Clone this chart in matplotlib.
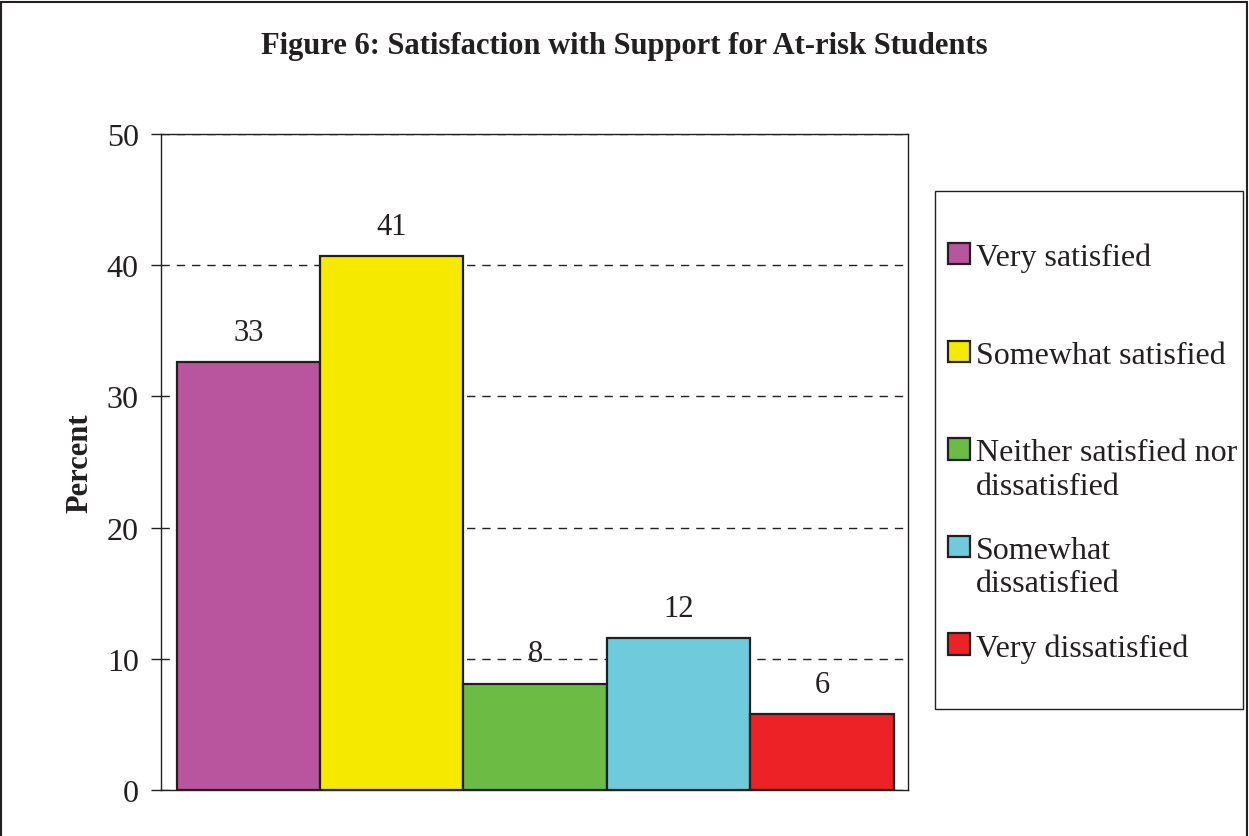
import matplotlib
matplotlib.use('Agg')
import matplotlib.pyplot as plt
from matplotlib.patches import Rectangle

# data
categories = ['Very satisfied', 'Somewhat satisfied',
              'Neither satisfied nor\ndissatisfied', 'Somewhat\ndissatisfied',
              'Very dissatisfied']
values = [32.6, 40.7, 8.1, 11.6, 5.8]
value_labels = ['33', '41', '8', '12', '6']
colors = ['#B9559E', '#F5E900', '#6BBB45', '#6FCBDC', '#EC2227']
yticks = [0, 10, 20, 30, 40, 50]

plt.rcParams['font.family'] = ['Liberation Serif', 'DejaVu Serif']

fig = plt.figure(figsize=(12.49, 8.37), dpi=100)
ax = fig.add_axes([0.1289, 0.055, 0.598, 0.7837])

x = list(range(len(values)))
bars = ax.bar(x, values, width=1.0, color=colors, edgecolor='#231F20',
              linewidth=1.6, zorder=3)
ax.bar_label(bars, labels=value_labels, padding=11, fontsize=22, color='#231F20')

ax.set_xlim(-0.61, 4.6)
ax.set_ylim(0, 50)
ax.set_yticks(yticks)
ax.set_xticks([])
ax.tick_params(axis='y', direction='out', length=7, width=1, labelsize=23,
               colors='#231F20', pad=9)
ax.yaxis.grid(True, linestyle=(0, (6, 5)), color='#231F20', linewidth=1, zorder=0)
ax.set_axisbelow(True)
for s in ax.spines.values():
    s.set_linewidth(1)
    s.set_color('#231F20')

ax.set_ylabel('Percent', fontsize=22, fontweight='bold', labelpad=9, color='#231F20')
fig.text(0.5, 0.945, 'Figure 6: Satisfaction with Support for At-risk Students',
         ha='center', va='center', fontsize=22, fontweight='bold', color='#231F20')

# legend: pad every entry to two lines so the spacing stays even
handles = [Rectangle((0, 0), 1, 1, facecolor=c, edgecolor='#231F20', linewidth=1.6)
           for c in colors]
labels = [c if '\n' in c else c + '\n ' for c in categories]
leg = fig.legend(handles, labels, loc='upper left', bbox_to_anchor=(0.7594, 0.709),
                 frameon=False, fontsize=23, handlelength=0.66, handleheight=0.66,
                 handletextpad=0.2, labelspacing=1.1, borderpad=0, borderaxespad=0)
for col in leg._legend_handle_box.get_children():
    for row in col.get_children():
        row.align = 'top'
for t in leg.get_texts():
    t.set_color('#231F20')

# legend frame and outer border
fig.add_artist(Rectangle((935 / 1249, 1 - 710 / 837), 308 / 1249, 518 / 837,
                         transform=fig.transFigure, fill=False,
                         edgecolor='#231F20', linewidth=1))
fig.add_artist(Rectangle((0.001, -0.01), 0.997, 1.006, transform=fig.transFigure,
                         fill=False, edgecolor='#231F20', linewidth=1.5))

fig.savefig('out.png', dpi=100)
